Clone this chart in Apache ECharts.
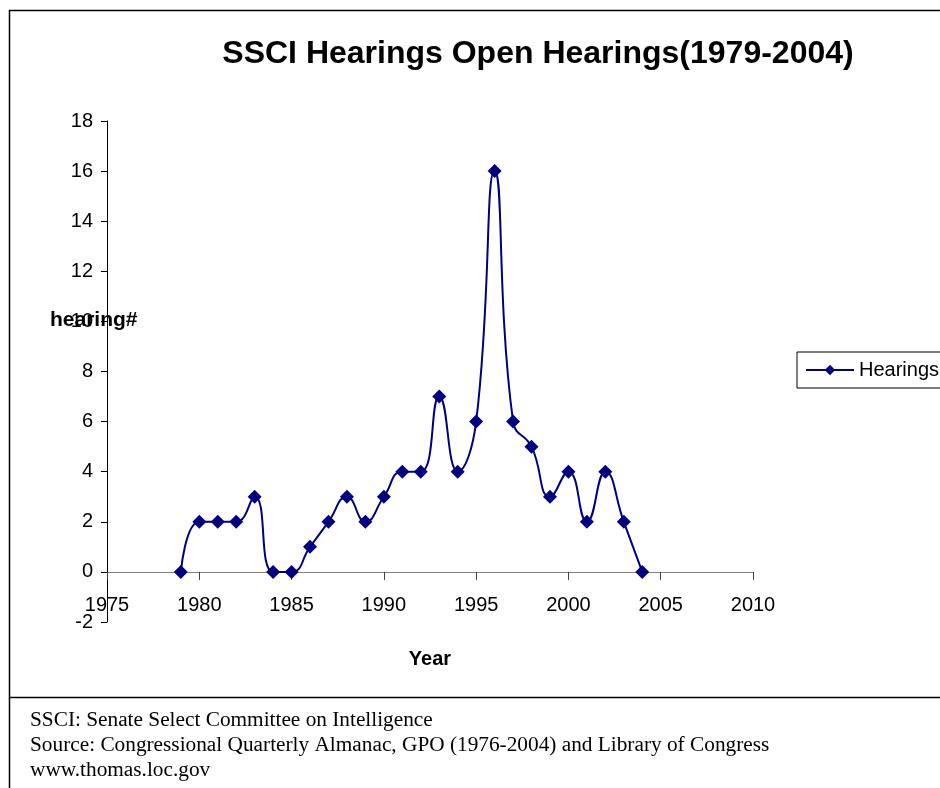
<!DOCTYPE html>
<html>
<head>
<meta charset="utf-8">
<script src="https://cdn.jsdelivr.net/npm/echarts@6/dist/echarts.min.js"></script>
<style>
  html, body { margin: 0; padding: 0; background: #fff; }
  #chart { width: 940px; height: 788px; }
</style>
</head>
<body>
<div id="chart"></div>
<script>
// data
var years = [1979, 1980, 1981, 1982, 1983, 1984, 1985, 1986, 1987, 1988, 1989, 1990, 1991,
             1992, 1993, 1994, 1995, 1996, 1997, 1998, 1999, 2000, 2001, 2002, 2003, 2004];
var hearings = [0, 2, 2, 2, 3, 0, 0, 1, 2, 3, 2, 3, 4,
                4, 7, 4, 6, 16, 6, 5, 3, 4, 2, 4, 2, 0];
var footNotes = [
    'SSCI: Senate Select Committee on Intelligence',
    'Source: Congressional Quarterly Almanac, GPO (1976-2004) and Library of Congress',
    'www.thomas.loc.gov'
];

var dom = document.getElementById('chart');
var myChart = echarts.init(dom);

var points = years.map(function (y, i) { return [y, hearings[i]]; });

var notes = footNotes.map(function (t, i) {
    return {
        type: 'text', left: 30, top: 710 + i * 25,
        style: { text: t, font: '21.3px "Liberation Serif", "Times New Roman", serif', fill: '#000' }
    };
});

var option = {
    textStyle: { fontFamily: '"Liberation Sans", Arial, sans-serif' },
    title: {
        text: 'SSCI Hearings Open Hearings(1979-2004)',
        left: 533, top: 33, textAlign: 'center',
        textStyle: { fontSize: 32, fontWeight: 'bold', color: '#000' }
    },
    legend: {
        left: 797, top: 352,
        data: ['Hearings'],
        itemWidth: 48, itemHeight: 13, itemGap: 5,
        padding: [8, 10, 8, 8],
        borderColor: '#000', borderWidth: 1,
        textStyle: { fontSize: 20, color: '#000' }
    },
    grid: { left: 107, right: 187, top: 121, bottom: 166, containLabel: false, outerBoundsMode: 'none' },
    xAxis: {
        type: 'value', min: 1975, max: 2010, interval: 5,
        name: 'Year', nameLocation: 'middle', nameGap: 27,
        nameTextStyle: { fontSize: 20, fontWeight: 'bold', color: '#000' },
        axisLine: { onZero: true, lineStyle: { color: '#808080', width: 1 } },
        axisTick: { show: true, inside: false, length: 8, lineStyle: { color: '#404040' } },
        axisLabel: { fontSize: 20, color: '#000', margin: -27, formatter: function (v) { return String(v); } },
        splitLine: { show: false }
    },
    yAxis: {
        type: 'value', min: -2, max: 18, interval: 2,
        axisLine: { show: true, lineStyle: { color: '#000', width: 1 } },
        axisTick: { show: true, length: 6, lineStyle: { color: '#000' } },
        axisLabel: { fontSize: 20, color: '#000', margin: 14 },
        splitLine: { show: false }
    },
    series: [{
        name: 'Hearings',
        type: 'line',
        data: points,
        smooth: 0.5,
        symbol: 'diamond',
        symbolSize: 14,
        lineStyle: { color: '#000080', width: 2 },
        itemStyle: { color: '#000080' },
        animation: false
    }],
    graphic: [
        { type: 'rect', shape: { x: 9.5, y: 10.5, width: 960, height: 687 },
          style: { fill: 'none', stroke: '#000', lineWidth: 1.5 }, silent: true },
        { type: 'line', shape: { x1: 9.5, y1: 697, x2: 9.5, y2: 788 },
          style: { stroke: '#000', lineWidth: 1.5 }, silent: true },
        // y axis title, drawn where the original puts it
        { type: 'text', left: 50, top: 310,
          style: { text: 'hearing#', font: 'bold 21px "Liberation Sans", Arial, sans-serif', fill: '#000' } }
    ].concat(notes)
};

if (option && typeof option === 'object') {
    myChart.setOption(option, false);
}
window.onresize = myChart.resize;
</script>
</body>
</html>
